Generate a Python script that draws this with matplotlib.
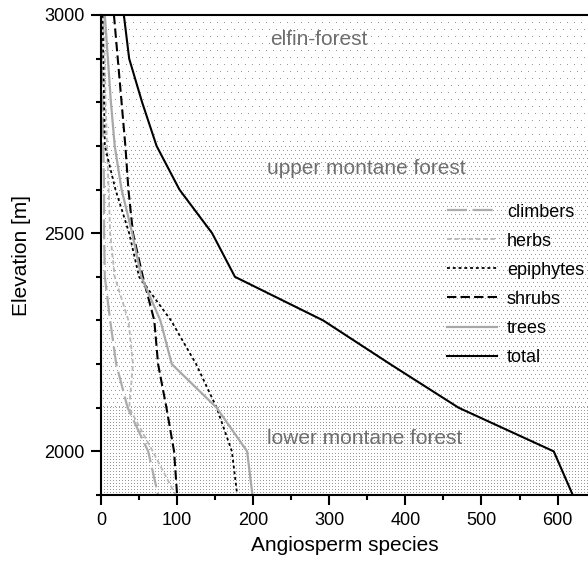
import numpy as np
import matplotlib
matplotlib.use("Agg")
import matplotlib.pyplot as plt
import matplotlib.transforms as mtransforms
from matplotlib.ticker import MultipleLocator, FixedLocator

plt.rcParams['font.family'] = ['Liberation Sans', 'DejaVu Sans']

# elevation steps (m) and species counts per life form
elevation = [3000, 2900, 2800, 2700, 2600, 2500, 2400, 2300, 2200, 2100, 2000, 1900]
climbers = [0, 1, 2, 3, 4, 4, 5, 12, 20, 35, 62, 75]
herbs = [3, 5, 6, 8, 10, 12, 18, 36, 42, 37, 68, 98]
epiphytes = [2, 3, 4, 5, 19, 37, 50, 92, 125, 152, 172, 179]
shrubs = [17, 22, 27, 32, 36, 42, 55, 70, 75, 86, 96, 100]
trees = [5, 9, 13, 18, 27, 41, 53, 78, 93, 152, 192, 199]
total = [30, 37, 54, 73, 103, 146, 176, 292, 380, 470, 595, 620]

# forest belts
zones = ['elfin-forest', 'upper montane forest', 'lower montane forest']
zone_lo = [2700, 2100, 1900]
zone_hi = [3000, 2700, 2100]
zone_step = [7, 4, 3]          # dot spacing of the background texture, px

XMAX = 640
YMIN, YMAX = 1900, 3000

fig = plt.figure(figsize=(5.88, 5.61), dpi=100)
ax = fig.add_axes([0.1718, 0.1176, 0.8282, 0.8557])
ax_w = fig.get_figwidth() * fig.dpi * 0.8282
ax_h = fig.get_figheight() * fig.dpi * 0.8557

# dotted background per belt
for lo, hi, step in zip(zone_lo, zone_hi, zone_step):
    h = int(round(ax_h * (hi - lo) / (YMAX - YMIN)))
    w = int(round(ax_w))
    yy, xx = np.mgrid[0:h, 0:w]
    shift = (yy // step % 2) * (step // 2) if step > 3 else 0
    dots = ((yy % step) == 0) & (((xx + shift) % step) == 0)
    tex = np.where(dots, 0.6, 1.0)
    ax.imshow(tex, cmap='gray', vmin=0, vmax=1, extent=(0, XMAX, lo, hi),
              aspect='auto', interpolation='nearest', zorder=0)

ax.text(286, 2943, zones[0], color='#6e6e6e', fontsize=15, ha='center', va='center')
ax.text(349, 2649, zones[1], color='#6e6e6e', fontsize=15, ha='center', va='center')
ax.text(347, 2030, zones[2], color='#6e6e6e', fontsize=15, ha='center', va='center')

ax.plot(climbers, elevation, color='#acacac', lw=1.6, dashes=(9, 2.5), label='climbers')
ax.plot(herbs, elevation, color='#b8b8b8', lw=1.3, dashes=(2.5, 1.5), label='herbs')
ax.plot(epiphytes, elevation, color='black', lw=1.3, dashes=(1.6, 1.6), label='epiphytes')
ax.plot(shrubs, elevation, color='black', lw=1.5, dashes=(4.5, 2), label='shrubs')
ax.plot(trees, elevation, color='#a8a8a8', lw=1.6, label='trees')
ax.plot(total, elevation, color='black', lw=1.5, label='total')

ax.set_xlim(0, XMAX)
ax.set_ylim(YMIN, YMAX)
ax.xaxis.set_major_locator(MultipleLocator(100))
ax.xaxis.set_minor_locator(MultipleLocator(50))
ax.yaxis.set_major_locator(FixedLocator([2000, 2500, 3000]))
ax.yaxis.set_minor_locator(MultipleLocator(100))
ax.tick_params(which='major', direction='out', length=7, width=1.5, labelsize=13, pad=5)
ax.tick_params(which='minor', direction='out', length=3.5, width=1.5)

ax.spines['right'].set_visible(False)
for s in ['left', 'bottom', 'top']:
    ax.spines[s].set_linewidth(1.5)

ax.set_xlabel('Angiosperm species', fontsize=15, labelpad=5)
ax.set_ylabel('Elevation [m]', fontsize=15, labelpad=9)

fig.canvas.draw()
lbl = ax.get_xticklabels()[0]
lbl.set_horizontalalignment('left')
lbl.set_transform(lbl.get_transform() + mtransforms.ScaledTranslation(4 / 72, 0, fig.dpi_scale_trans))

ax.legend(loc='center left', bbox_to_anchor=(0.711, 0.438), frameon=False, fontsize=13,
          handlelength=2.75, handletextpad=0.55, labelspacing=0.67,
          borderpad=0, borderaxespad=0)

fig.savefig('out.png', dpi=100)
